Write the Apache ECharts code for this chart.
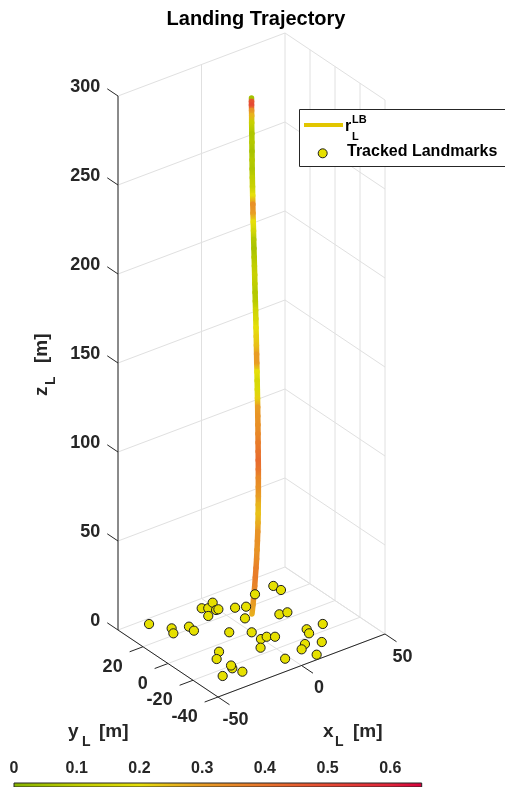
<!DOCTYPE html>
<html><head><meta charset="utf-8">
<script src="https://cdn.jsdelivr.net/npm/echarts@6/dist/echarts.min.js"></script>
<style>html,body{margin:0;padding:0;background:#fff}#c{width:505px;height:787px}</style>
</head><body><div id="c"></div>
<script>
// ---------------- DATA ----------------
const xLim = [-50, 50];
const yLim = [-40, 40];
const zLim = [0, 300];
const xTicks = [-50, 0, 50];
const yTicks = [-40, -20, 0, 20];
const zTicks = [0, 50, 100, 150, 200, 250, 300];
const xTickLabels = ['-50', '0', '50'];
const yTickLabels = ['-40', '-20', '0', '20'];
const zTickLabels = ['0', '50', '100', '150', '200', '250', '300'];

// landing trajectory r_L^LB (m) and its error value (colour)
const trajZ = [300, 298, 296, 293, 290, 286, 280, 275, 270, 265, 260, 255, 250, 245, 240, 235, 230, 225, 220, 215, 210, 205, 200, 195, 190, 185, 180, 175, 170, 165, 160, 155, 150, 145, 140, 135, 130, 125, 120, 115, 110, 105, 100, 95, 90, 85, 80, 75, 70, 65, 60, 55, 50, 45, 40, 35, 30, 25, 20, 15, 10];
const trajX = [0.0, 0.0, 0.0, 0.05, 0.1, 0.1, 0.2, 0.25, 0.3, 0.35, 0.4, 0.5, 0.6, 0.7, 0.8, 0.9, 1.05, 1.2, 1.3, 1.45, 1.6, 1.75, 1.9, 2.0, 2.15, 2.3, 2.45, 2.6, 2.7, 2.85, 2.95, 3.05, 3.15, 3.3, 3.4, 3.5, 3.6, 3.7, 3.75, 3.85, 3.9, 3.95, 4.0, 4.05, 4.1, 4.1, 4.1, 4.1, 4.05, 4.0, 3.9, 3.75, 3.55, 3.3, 3.05, 2.7, 2.3, 1.9, 1.4, 0.9, 0.3];
const trajY = [0, 0, 0, 0, 0, 0, 0, 0, 0, 0, 0, 0, 0, 0, 0, 0, 0, 0, 0, 0, 0, 0, 0, 0, 0, 0, 0, 0, 0, 0, 0, 0, 0, 0, 0, 0, 0, 0, 0, 0, 0, 0, 0, 0, 0, 0, 0, 0, 0, 0, 0, 0, 0, 0, 0, 0, 0, 0, 0, 0, 0];
const trajErr = [0.05, 0.48, 0.5, 0.32, 0.26, 0.12, 0.07, 0.08, 0.06, 0.08, 0.07, 0.1, 0.12, 0.2, 0.33, 0.3, 0.2, 0.15, 0.08, 0.06, 0.08, 0.1, 0.12, 0.1, 0.08, 0.09, 0.14, 0.16, 0.2, 0.22, 0.24, 0.3, 0.3, 0.2, 0.16, 0.17, 0.22, 0.3, 0.32, 0.33, 0.35, 0.38, 0.4, 0.42, 0.4, 0.35, 0.33, 0.3, 0.26, 0.24, 0.27, 0.32, 0.33, 0.32, 0.34, 0.37, 0.38, 0.36, 0.33, 0.3, 0.27];

// tracked landmarks (m)
const lmX = [-34.7, -28.5, -30.7, -20.9, -21.3, -5.5, -3.0, 1.9, -1.0, 0.3, -7.4, 7.6, 12.4, 22.9, 34.7, 35.3, 5.3, 20.8, 25.0, -8.7, -0.1, -0.4, 3.1, 6.3, -5.5, -23.7, -28.8, -28.1, -26.2, -36.2, -2.4, 22.7, 21.3, 31.9, 13.6, 9.3, 21.2, 12.0, -27.0];
const lmY = [35.6, 25.8, 21.5, 22.1, 17.6, 32.5, 30.6, 33.6, 27.0, 26.9, 24.7, 23.3, 20.9, 27.8, 28.9, 23.6, 12.3, 5.5, 4.7, 6.2, -0.3, -8.1, -8.0, -10.4, -14.6, -5.7, -10.6, -22.2, -27.7, -25.3, -30.1, -13.8, -17.6, -14.4, -24.6, -27.7, -27.9, -36.1, -19.7];
const lmZ = [0, 0, 0, 0, 0, 0, 0, 0, 0, 0, 0, 0, 0, 0, 0, 0, 0, 0, 0, 0, 0, 0, 0, 0, 0, 0, 0, 0, 0, 0, 0, 0, 0, 0, 0, 0, 0, 0, 0];

// colour bar
const cbarLim = [0, 0.65];
const cbarInterval = 0.1;

// ---------------- STYLE / VIEW ----------------
const FONT = 'Liberation Sans';
const AX = '#262626';
const GRIDC = '#e0e0e0';
const cmapStops = [[0, '#86b300'], [0.1, '#c0ce00'], [0.2, '#e6df0a'], [0.25, '#e8ba1a'], [0.3, '#e89c24'], [0.4, '#e8742c'], [0.5, '#e64a34'], [0.6, '#e0243b'], [0.65, '#d8003c']];

function hex2rgb(h) { return [parseInt(h.slice(1, 3), 16), parseInt(h.slice(3, 5), 16), parseInt(h.slice(5, 7), 16)]; }
function cmap(v) {
  if (v <= cmapStops[0][0]) return cmapStops[0][1];
  for (let i = 1; i < cmapStops.length; i++) {
    if (v <= cmapStops[i][0]) {
      const a = cmapStops[i - 1], b = cmapStops[i];
      const t = (v - a[0]) / (b[0] - a[0]);
      const ca = hex2rgb(a[1]), cb = hex2rgb(b[1]);
      return 'rgb(' + ca.map((c, k) => Math.round(c + (cb[k] - c) * t)).join(',') + ')';
    }
  }
  return cmapStops[cmapStops.length - 1][1];
}

// 3D view: projection onto the hidden 2D plane of grid 0
function proj(x, y, z) {
  const fx = (x - xLim[0]) / (xLim[1] - xLim[0]);
  const fy = (y - yLim[0]) / (yLim[1] - yLim[0]);
  const fz = (z - zLim[0]) / (zLim[1] - zLim[0]);
  return [100 + 167 * fx - 100 * fy, 63 * fx + 67 * fy + 534 * fz];
}

// ---------------- BUILD SEGMENTS ----------------
const gridSegs = [];
xTicks.forEach(x => gridSegs.push([x, yLim[1], zLim[0], x, yLim[1], zLim[1]]));
zTicks.forEach(z => gridSegs.push([xLim[0], yLim[1], z, xLim[1], yLim[1], z]));
yTicks.forEach(y => gridSegs.push([xLim[1], y, zLim[0], xLim[1], y, zLim[1]]));
zTicks.forEach(z => gridSegs.push([xLim[1], yLim[0], z, xLim[1], yLim[1], z]));
xTicks.forEach(x => gridSegs.push([x, yLim[0], zLim[0], x, yLim[1], zLim[0]]));
yTicks.forEach(y => gridSegs.push([xLim[0], y, zLim[0], xLim[1], y, zLim[0]]));

const axisSegs = [
  [xLim[0], yLim[1], zLim[0], xLim[0], yLim[1], zLim[1]],
  [xLim[0], yLim[0], zLim[0], xLim[0], yLim[1], zLim[0]],
  [xLim[0], yLim[0], zLim[0], xLim[1], yLim[0], zLim[0]]
];
const TZ = 8.6, TX = 9.2, TY = 8;
zTicks.forEach(z => axisSegs.push([xLim[0], yLim[1], z, xLim[0], yLim[1] + TZ, z]));
xTicks.forEach(x => axisSegs.push([x, yLim[0], zLim[0], x, yLim[0] - TX, zLim[0]]));
yTicks.forEach(y => axisSegs.push([xLim[0], y, zLim[0], xLim[0] - TY, y, zLim[0]]));

const trajSegs = [];
for (let i = 0; i < trajZ.length - 1; i++) {
  trajSegs.push([trajX[i], trajY[i], trajZ[i], trajX[i + 1], trajY[i + 1], trajZ[i + 1], trajErr[i], trajErr[i + 1]]);
}
const lmData = lmX.map((x, i) => [x, lmY[i], lmZ[i]]);

function segRender(color, width) {
  return function (params, api) {
    const p1 = api.coord(proj(api.value(0), api.value(1), api.value(2)));
    const p2 = api.coord(proj(api.value(3), api.value(4), api.value(5)));
    return { type: 'line', shape: { x1: p1[0], y1: p1[1], x2: p2[0], y2: p2[1] }, style: { stroke: color, lineWidth: width } };
  };
}
function labelRender(kind) {
  return function (params, api) {
    const i = params.dataIndex;
    let p, txt, align, dx, dy;
    if (kind === 'z') { p = api.coord(proj(xLim[0], yLim[1] + TZ, zTicks[i])); txt = zTickLabels[i]; align = 'right'; dx = -7; dy = -2; }
    if (kind === 'x') { p = api.coord(proj(xTicks[i], yLim[0] - TX, zLim[0])); txt = xTickLabels[i]; align = 'center'; dx = 6; dy = 15; }
    if (kind === 'y') { p = api.coord(proj(xLim[0] - TY, yTicks[i], zLim[0])); txt = yTickLabels[i]; align = 'right'; dx = -7; dy = 15; }
    return { type: 'text', x: p[0] + dx, y: p[1] + dy, style: { text: txt, align: align, verticalAlign: 'middle', fill: AX, font: 'bold 18px "' + FONT + '"' } };
  };
}

const cbarGrad = new echarts.graphic.LinearGradient(0, 0, 1, 0, cmapStops.map(s => ({ offset: (s[0] - cbarLim[0]) / (cbarLim[1] - cbarLim[0]), color: s[1] })));

const chart = echarts.init(document.getElementById('c'), null, { renderer: 'canvas' });
const option = {
  animation: false,
  backgroundColor: '#fff',
  title: { text: 'Landing Trajectory', left: 251, top: 4, textAlign: 'center', textStyle: { fontFamily: FONT, fontSize: 20, fontWeight: 'bold', color: '#000' } },
  grid: [
    { left: 118, top: 30, width: 267, height: 667 },
    { left: 14, top: 783, width: 407.7, height: 14 }
  ],
  xAxis: [
    { type: 'value', gridIndex: 0, min: 0, max: 267, show: false },
    { type: 'value', gridIndex: 1, min: cbarLim[0], max: cbarLim[1], interval: cbarInterval, position: 'top', z: 10,
      axisLine: { show: true, lineStyle: { color: AX, width: 1 } },
      axisTick: { show: true, inside: true, length: 14, lineStyle: { color: AX, width: 1 } },
      splitLine: { show: false },
      axisLabel: { show: true, showMaxLabel: false, margin: 6, color: AX, fontFamily: FONT, fontSize: 16, fontWeight: 'bold' } }
  ],
  yAxis: [
    { type: 'value', gridIndex: 0, min: 0, max: 667, show: false },
    { type: 'value', gridIndex: 1, min: 0, max: 1, show: false }
  ],
  series: [
    { type: 'custom', name: 'grid', xAxisIndex: 0, yAxisIndex: 0, clip: false, z: 1, silent: true, data: gridSegs, renderItem: segRender(GRIDC, 1) },
    { type: 'custom', name: 'axes', xAxisIndex: 0, yAxisIndex: 0, clip: false, z: 2, silent: true, data: axisSegs, renderItem: segRender(AX, 1) },
    { type: 'custom', name: 'zlabels', xAxisIndex: 0, yAxisIndex: 0, clip: false, z: 2, silent: true, data: zTicks.map(v => [v]), renderItem: labelRender('z') },
    { type: 'custom', name: 'xlabels', xAxisIndex: 0, yAxisIndex: 0, clip: false, z: 2, silent: true, data: xTicks.map(v => [v]), renderItem: labelRender('x') },
    { type: 'custom', name: 'ylabels', xAxisIndex: 0, yAxisIndex: 0, clip: false, z: 2, silent: true, data: yTicks.map(v => [v]), renderItem: labelRender('y') },
    { type: 'custom', name: 'r_L^LB', xAxisIndex: 0, yAxisIndex: 0, clip: false, z: 3, silent: true, data: trajSegs,
      renderItem: function (params, api) {
        const p1 = api.coord(proj(api.value(0), api.value(1), api.value(2)));
        const p2 = api.coord(proj(api.value(3), api.value(4), api.value(5)));
        const g = new echarts.graphic.LinearGradient(p1[0], p1[1], p2[0], p2[1] + 0.001, [{ offset: 0, color: cmap(api.value(6)) }, { offset: 1, color: cmap(api.value(7)) }], true);
        return { type: 'line', shape: { x1: p1[0], y1: p1[1], x2: p2[0], y2: p2[1] }, style: { stroke: g, lineWidth: 5.5, lineCap: 'round' } };
      } },
    { type: 'custom', name: 'Tracked Landmarks', xAxisIndex: 0, yAxisIndex: 0, clip: false, z: 4, silent: true, data: lmData,
      renderItem: function (params, api) {
        const p = api.coord(proj(api.value(0), api.value(1), api.value(2)));
        return { type: 'circle', shape: { cx: p[0], cy: p[1], r: 4.6 }, style: { fill: '#e6e000', stroke: '#1e1e1e', lineWidth: 1 } };
      } },
    { type: 'custom', name: 'colorbar', xAxisIndex: 1, yAxisIndex: 1, clip: false, z: 2, silent: true, data: [[cbarLim[0], cbarLim[1]]],
      renderItem: function (params, api) {
        const a = api.coord([api.value(0), 1]);
        const b = api.coord([api.value(1), 0]);
        return { type: 'rect', shape: { x: a[0], y: a[1], width: b[0] - a[0], height: b[1] - a[1] }, style: { fill: cbarGrad, stroke: AX, lineWidth: 1 } };
      } }
  ],
  graphic: [
    // axis titles
    { type: 'group', x: 42, y: 396, rotation: Math.PI / 2, children: [
      { type: 'text', x: 0, y: 0, style: { text: 'z', align: 'left', verticalAlign: 'middle', fill: AX, font: 'bold 19px "' + FONT + '"' } },
      { type: 'text', x: 11, y: 9, style: { text: 'L', align: 'left', verticalAlign: 'middle', fill: AX, font: 'bold 14px "' + FONT + '"' } },
      { type: 'text', x: 33, y: 0, style: { text: '[m]', align: 'left', verticalAlign: 'middle', fill: AX, font: 'bold 19px "' + FONT + '"' } }
    ] },
    { type: 'text', x: 68, y: 732, style: { text: 'y', align: 'left', verticalAlign: 'middle', fill: AX, font: 'bold 19px "' + FONT + '"' } },
    { type: 'text', x: 82, y: 742, style: { text: 'L', align: 'left', verticalAlign: 'middle', fill: AX, font: 'bold 14px "' + FONT + '"' } },
    { type: 'text', x: 99, y: 732, style: { text: '[m]', align: 'left', verticalAlign: 'middle', fill: AX, font: 'bold 19px "' + FONT + '"' } },
    { type: 'text', x: 323, y: 732, style: { text: 'x', align: 'left', verticalAlign: 'middle', fill: AX, font: 'bold 19px "' + FONT + '"' } },
    { type: 'text', x: 335, y: 742, style: { text: 'L', align: 'left', verticalAlign: 'middle', fill: AX, font: 'bold 14px "' + FONT + '"' } },
    { type: 'text', x: 353, y: 732, style: { text: '[m]', align: 'left', verticalAlign: 'middle', fill: AX, font: 'bold 19px "' + FONT + '"' } },
    // legend
    { type: 'rect', z: 100, shape: { x: 299.5, y: 109.5, width: 230, height: 57 }, style: { fill: '#fff', stroke: AX, lineWidth: 1 } },
    { type: 'line', z: 101, shape: { x1: 304, y1: 125, x2: 343, y2: 125 }, style: { stroke: '#e2c600', lineWidth: 4 } },
    { type: 'text', z: 101, x: 345, y: 127, style: { text: 'r', align: 'left', verticalAlign: 'middle', fill: '#000', font: 'bold 16px "' + FONT + '"' } },
    { type: 'text', z: 101, x: 352, y: 120, style: { text: 'LB', align: 'left', verticalAlign: 'middle', fill: '#000', font: 'bold 11px "' + FONT + '"' } },
    { type: 'text', z: 101, x: 352, y: 137, style: { text: 'L', align: 'left', verticalAlign: 'middle', fill: '#000', font: 'bold 11px "' + FONT + '"' } },
    { type: 'circle', z: 101, shape: { cx: 322.7, cy: 153.3, r: 4.5 }, style: { fill: '#e6e000', stroke: '#1e1e1e', lineWidth: 1 } },
    { type: 'text', z: 101, x: 347, y: 151.5, style: { text: 'Tracked Landmarks', align: 'left', verticalAlign: 'middle', fill: '#000', font: 'bold 16px "' + FONT + '"' } }
  ]
};
chart.setOption(option);
</script>
</body></html>
